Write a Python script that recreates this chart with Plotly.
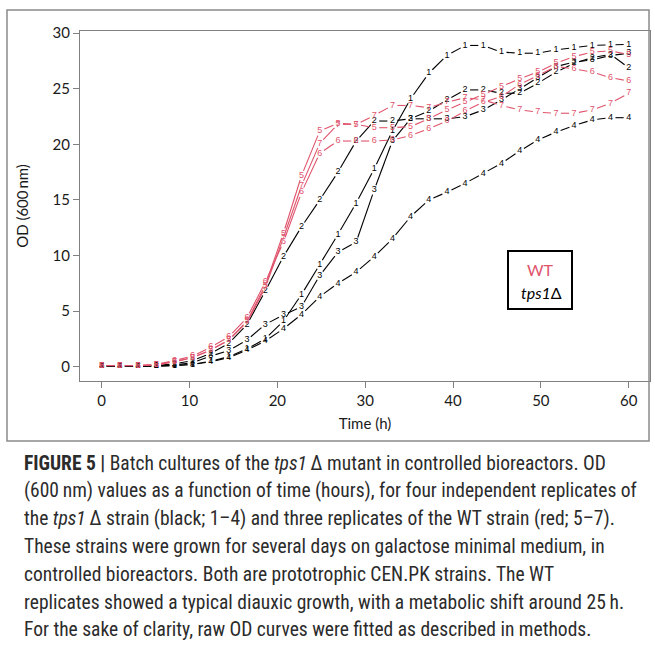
import math
import plotly.graph_objects as go

# ---------------- data ----------------
time_h = [0, 2.07, 4.14, 6.21, 8.28, 10.34, 12.41, 14.48, 16.55, 18.62,
          20.69, 22.76, 24.83, 26.9, 28.97, 31.03, 33.1, 35.17, 37.24, 39.31,
          41.38, 43.45, 45.52, 47.59, 49.66, 51.72, 53.79, 55.86, 57.93, 60.0]

tps1_1 = [0.05, 0.05, 0.05, 0.05, 0.1, 0.2, 0.5, 0.9, 1.6, 2.5,
          4.1, 6.5, 9.2, 11.9, 14.7, 17.8, 21.2, 24.1, 26.4, 28.0,
          28.9, 28.9, 28.3, 28.2, 28.2, 28.5, 28.7, 28.9, 28.95, 29.0]
tps1_2 = [0.05, 0.05, 0.05, 0.1, 0.25, 0.55, 1.2, 2.1, 3.8, 6.8,
          9.9, 12.6, 15.0, 17.5, 20.3, 22.1, 22.1, 22.3, 23.0, 24.0,
          24.9, 24.9, 24.6, 24.6, 25.5, 26.5, 27.3, 27.8, 28.1, 26.9]
tps1_3 = [0.05, 0.05, 0.05, 0.05, 0.15, 0.35, 0.95, 1.45, 2.4, 3.8,
          4.65, 5.4, 8.2, 10.3, 11.2, 15.9, 20.3, 22.3, 22.3, 22.3,
          22.5, 23.1, 24.0, 25.0, 26.0, 27.0, 27.4, 27.6, 28.0, 28.2]
tps1_4 = [0.05, 0.05, 0.05, 0.05, 0.1, 0.2, 0.45, 0.8, 1.5, 2.3,
          3.4, 4.7, 6.3, 7.5, 8.5, 9.9, 11.5, 13.5, 15.0, 15.7,
          16.5, 17.4, 18.3, 19.4, 20.4, 21.1, 21.7, 22.2, 22.4, 22.4]
wt_5 = [0.1, 0.1, 0.1, 0.15, 0.45, 0.8, 1.5, 2.4, 4.1, 7.3,
        12.0, 17.2, 21.2, 21.9, 21.8, 21.5, 21.5, 21.6, 22.3, 23.1,
        23.8, 24.5, 25.2, 25.9, 26.5, 27.3, 27.9, 28.3, 28.4, 28.1]
wt_6 = [0.1, 0.1, 0.1, 0.2, 0.55, 0.95, 1.75, 2.7, 4.4, 7.6,
        11.2, 15.7, 19.2, 20.3, 20.3, 20.3, 20.4, 20.8, 21.4, 22.1,
        23.0, 23.8, 24.3, 25.4, 26.2, 27.0, 26.8, 26.5, 26.0, 25.7]
wt_7 = [0.1, 0.1, 0.1, 0.15, 0.45, 0.8, 1.5, 2.4, 4.0, 7.1,
        11.6, 16.3, 20.1, 21.8, 21.8, 22.6, 23.5, 23.5, 23.3, 23.8,
        24.2, 24.0, 23.5, 23.1, 22.9, 22.8, 22.8, 23.1, 23.7, 24.6]

series_labels = ["1", "2", "3", "4", "5", "6", "7"]
series_values = [tps1_1, tps1_2, tps1_3, tps1_4, wt_5, wt_6, wt_7]
series_groups = ["tps1", "tps1", "tps1", "tps1", "WT", "WT", "WT"]

x_ticks = [0, 10, 20, 30, 40, 50, 60]
y_ticks = [0, 5, 10, 15, 20, 25, 30]

caption_lines = [
    "<b>FIGURE 5 |</b> Batch cultures of the <i>tps1</i>\u2009\u0394 mutant in controlled bioreactors. OD",
    "(600\u2009nm) values as a function of time (hours), for four independent replicates of",
    "the <i>tps1</i>\u2009\u0394 strain (black; 1\u20134) and three replicates of the WT strain (red; 5\u20137).",
    "These strains were grown for several days on galactose minimal medium, in",
    "controlled bioreactors. Both are prototrophic CEN.PK strains. The WT",
    "replicates showed a typical diauxic growth, with a metabolic shift around 25\u2009h.",
    "For the sake of clarity, raw OD curves were fitted as described in methods.",
]

# ---------------- layout constants ----------------
W, H = 655, 649
ML, MR, MT, MB = 80, 5, 31, 268
PW, PH = W - ML - MR, H - MT - MB
X_RANGE = [-2.47, 62.43]
Y_RANGE = [-1.29, 30.2]
COLORS = {"tps1": "#000000", "WT": "#DF536B"}
GAP = 5.0  # px gap around each point label (R type="b")


def px_x(px):
    return (px - ML) / PW


def px_y(py):
    return (H - MB - py) / PH


sx = PW / (X_RANGE[1] - X_RANGE[0])
sy = PH / (Y_RANGE[1] - Y_RANGE[0])


def gapped_segments(xs, ys):
    gx, gy = [], []
    for i in range(len(xs) - 1):
        dx, dy = xs[i + 1] - xs[i], ys[i + 1] - ys[i]
        L = math.hypot(dx * sx, dy * sy)
        if L <= 2 * GAP:
            continue
        f = GAP / L
        gx += [xs[i] + f * dx, xs[i + 1] - f * dx, None]
        gy += [ys[i] + f * dy, ys[i + 1] - f * dy, None]
    return gx, gy


fig = go.Figure()
for lab, vals, grp in zip(series_labels, series_values, series_groups):
    col = COLORS[grp]
    gx, gy = gapped_segments(time_h, vals)
    fig.add_trace(go.Scatter(x=gx, y=gy, mode="lines",
                             line=dict(color=col, width=1.1),
                             hoverinfo="skip", showlegend=False))
    fig.add_trace(go.Scatter(x=time_h, y=vals, mode="text",
                             text=[lab] * len(time_h),
                             textposition="middle center",
                             textfont=dict(family="Liberation Sans", size=9, color=col),
                             hoverinfo="skip", showlegend=False))

axis_common = dict(showline=True, mirror=True, linecolor="#808080", linewidth=1,
                   ticks="outside", ticklen=6, tickcolor="#808080", tickwidth=1,
                   showgrid=False, zeroline=False,
                   tickfont=dict(family="Lato", size=15, color="#1a1a1a"))

fig.update_layout(
    width=W, height=H,
    margin=dict(l=ML, r=MR, t=MT, b=MB),
    paper_bgcolor="white", plot_bgcolor="white",
    xaxis=dict(range=X_RANGE, tickvals=x_ticks, **axis_common,
               title=dict(text="Time (h)", standoff=10,
                          font=dict(family="Lato", size=15, color="#1a1a1a"))),
    yaxis=dict(range=Y_RANGE, tickvals=y_ticks, **axis_common,
               title=dict(text="OD (600\u2009nm)", standoff=20,
                          font=dict(family="Lato", size=15, color="#1a1a1a"))),
    showlegend=False,
)

shapes = [
    # outer frame
    dict(type="rect", xref="paper", yref="paper",
         x0=px_x(7), x1=px_x(649), y0=px_y(441), y1=px_y(10),
         line=dict(color="#8a8a8a", width=1.5), fillcolor="rgba(0,0,0,0)", layer="above"),
    # legend box
    dict(type="rect", xref="paper", yref="paper",
         x0=px_x(508), x1=px_x(572), y0=px_y(309), y1=px_y(251),
         line=dict(color="black", width=2), fillcolor="white", layer="above"),
]
fig.update_layout(shapes=shapes)

annotations = [
    dict(x=px_x(540), y=px_y(269), xref="paper", yref="paper", text="WT",
         showarrow=False, xanchor="center", yanchor="middle",
         font=dict(family="Lato", size=16, color=COLORS["WT"])),
    dict(x=px_x(541), y=px_y(292), xref="paper", yref="paper", text="<i>tps1</i>\u0394",
         showarrow=False, xanchor="center", yanchor="middle",
         font=dict(family="Lato", size=16, color="black")),
]
cap_y0, cap_dy = 463, 27.8
for i, line in enumerate(caption_lines):
    annotations.append(dict(
        x=px_x(22), y=px_y(cap_y0 + i * cap_dy), xref="paper", yref="paper",
        text=line, showarrow=False, xanchor="left", yanchor="middle",
        font=dict(family="Liberation Sans Narrow, Roboto Condensed, Liberation Sans",
                  size=19.5, color="#2b2b2b")))
fig.update_layout(annotations=annotations)

fig.write_html("out.html")
